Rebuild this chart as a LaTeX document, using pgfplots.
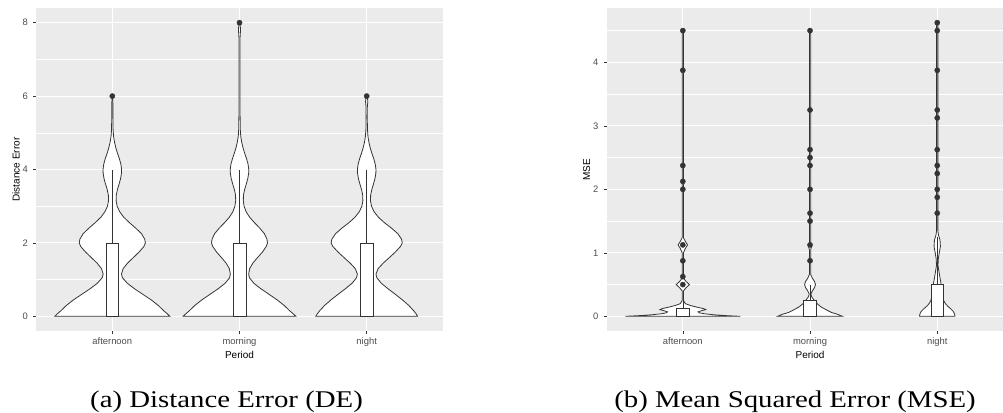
\documentclass[border=0pt]{standalone}
\usepackage{fontspec}
\setmainfont{Liberation Sans}
\newfontfamily\capfont{Liberation Serif}
\usepackage{pgfplots}
\usepackage{pgfplotstable}
\pgfplotsset{compat=1.18}

\definecolor{ggbg}{RGB}{235,235,235}
\definecolor{ggdark}{RGB}{51,51,51}
\definecolor{ggtext}{RGB}{77,77,77}

% ---- violin half-widths w (category units) at value y : Distance Error ----
\pgfplotstableread{
y w
0 0
0 0.452
0.06 0.435
0.15 0.405
0.3 0.36
0.45 0.305
0.6 0.24
0.75 0.175
0.9 0.118
1.05 0.08
1.15 0.072
1.3 0.085
1.45 0.12
1.6 0.165
1.75 0.21
1.9 0.248
2.0 0.26
2.1 0.255
2.25 0.23
2.4 0.185
2.55 0.135
2.7 0.09
2.85 0.058
3.0 0.038
3.15 0.03
3.3 0.031
3.45 0.04
3.6 0.053
3.75 0.065
3.9 0.072
4.0 0.073
4.15 0.067
4.3 0.055
4.45 0.04
4.6 0.027
4.75 0.017
4.9 0.01
5.1 0.006
5.4 0.0045
5.8 0.0045
6.0 0
}\deAft
\pgfplotstableread{
y w
0 0
0 0.443
0.06 0.425
0.15 0.395
0.3 0.35
0.45 0.295
0.6 0.232
0.75 0.168
0.9 0.113
1.05 0.078
1.15 0.072
1.3 0.08
1.45 0.105
1.6 0.142
1.75 0.18
1.9 0.21
2.0 0.22
2.1 0.216
2.25 0.196
2.4 0.16
2.55 0.118
2.7 0.08
2.85 0.052
3.0 0.036
3.15 0.03
3.3 0.031
3.45 0.04
3.6 0.053
3.75 0.065
3.9 0.072
4.0 0.073
4.15 0.067
4.3 0.055
4.45 0.04
4.6 0.027
4.75 0.017
4.9 0.01
5.1 0.006
5.5 0.0045
6.0 0.004
7.0 0.004
7.6 0.0045
7.8 0.008
7.92 0.006
8.0 0
}\deMor
\pgfplotstableread{
y w
0 0
0 0.40
0.06 0.39
0.15 0.37
0.3 0.33
0.45 0.28
0.6 0.225
0.75 0.168
0.9 0.115
1.05 0.08
1.15 0.073
1.3 0.09
1.45 0.13
1.6 0.178
1.75 0.225
1.9 0.265
2.0 0.28
2.1 0.274
2.25 0.245
2.4 0.196
2.55 0.14
2.7 0.092
2.85 0.058
3.0 0.038
3.15 0.03
3.3 0.031
3.45 0.04
3.6 0.053
3.75 0.065
3.9 0.072
4.0 0.073
4.15 0.067
4.3 0.055
4.45 0.04
4.6 0.027
4.75 0.017
4.9 0.01
5.1 0.006
5.4 0.0045
5.7 0.005
5.85 0.009
5.95 0.006
6.0 0
}\deNig

% ---- violin half-widths : MSE ----
\pgfplotstableread{
y w
0 0
0 0.452
0.012 0.33
0.025 0.24
0.04 0.17
0.055 0.13
0.07 0.12
0.09 0.15
0.105 0.18
0.12 0.165
0.145 0.11
0.17 0.06
0.2 0.02
0.25 0.005
0.4 0.005
0.45 0.025
0.5 0.052
0.55 0.025
0.6 0.005
1.0 0.005
1.07 0.02
1.125 0.037
1.18 0.02
1.24 0.005
4.45 0.005
4.5 0
}\mseAft
\pgfplotstableread{
y w
0 0
0 0.255
0.03 0.22
0.06 0.17
0.1 0.13
0.15 0.085
0.2 0.055
0.25 0.035
0.3 0.015
0.35 0.006
0.4 0.018
0.45 0.035
0.5 0.043
0.55 0.035
0.6 0.018
0.66 0.005
1.05 0.005
1.1 0.012
1.15 0.005
4.45 0.005
4.5 0
}\mseMor
\pgfplotstableread{
y w
0 0
0 0.139
0.04 0.136
0.08 0.125
0.12 0.105
0.16 0.082
0.2 0.064
0.25 0.05
0.35 0.04
0.5 0.031
0.65 0.018
0.8 0.006
0.9 0.008
1.0 0.016
1.1 0.025
1.2 0.022
1.28 0.01
1.35 0.005
4.58 0.005
4.625 0
}\mseNig

\pgfplotsset{
  ggpanel/.style={
    scale only axis,
    height=323pt,
    axis background/.style={fill=ggbg},
    axis line style={draw=none},
    tick align=outside,
    xtick pos=bottom, ytick pos=left,
    major tick length=3pt,
    minor tick length=0pt,
    tick style={ggdark, line width=0.55pt},
    xmajorgrids, ymajorgrids, yminorgrids,
    major grid style={white, line width=1.05pt},
    minor grid style={white, line width=0.5pt},
    xmin=0.4,
    xtick={1,2,3},
    xticklabels={afternoon,morning,night},
    tick label style={font=\fontsize{9.4}{10}\selectfont, color=ggtext, inner sep=0pt},
    xticklabel style={anchor=base, yshift=-10.5pt},
    yticklabel style={anchor=east, xshift=-5pt},
    /pgf/number format/assume math mode=true,
    label style={font=\fontsize{11.7}{13}\selectfont, inner sep=0pt},
  },
  vfill/.style={fill=white, draw=white, line width=0.2pt},
  vline/.style={draw=ggdark, line width=0.8pt},
  boxline/.style={draw=ggdark, line width=0.6pt, fill=white},
  outl/.style={only marks, mark=*, mark size=2.6pt, mark options={draw=ggdark, fill=ggdark}},
}

% violin: #1 = category position, #2 = table of half-widths
\newcommand{\violin}[2]{%
  \addplot[vfill] table[x expr=#1+\thisrow{w}, y=y]{#2};
  \addplot[vfill] table[x expr=#1-\thisrow{w}, y=y]{#2};
  \addplot[vline] table[x expr=#1+\thisrow{w}, y=y]{#2};
  \addplot[vline] table[x expr=#1-\thisrow{w}, y=y]{#2};
}

\begin{document}
\begin{tikzpicture}

% ================= (a) Distance Error =================
\begin{axis}[ggpanel,
  at={(36pt,81pt)}, anchor=south west,
  width=407pt, xmax=3.6,
  ymin=-0.4, ymax=8.4,
  ytick={0,2,4,6,8}, minor ytick={1,3,5,7},
  ylabel={Distance Error},
  every axis y label/.style={at={([xshift=-20pt]axis description cs:0,0.5)}, rotate=90, anchor=center},
  every axis x label/.style={at={([yshift=-24pt]axis cs:2,-0.4)}, anchor=center},
  xlabel={Period},
]
\violin{1}{\deAft}
\violin{2}{\deMor}
\violin{3}{\deNig}
% boxplots
\addplot[ggdark, line width=0.6pt] coordinates {(1,2) (1,4)};
\addplot[ggdark, line width=0.6pt] coordinates {(2,2) (2,4)};
\addplot[ggdark, line width=0.6pt] coordinates {(3,2) (3,4)};
\addplot[boxline] coordinates {(0.95,0) (1.05,0) (1.05,2) (0.95,2)} -- cycle;
\addplot[boxline] coordinates {(1.95,0) (2.05,0) (2.05,2) (1.95,2)} -- cycle;
\addplot[boxline] coordinates {(2.95,0) (3.05,0) (3.05,2) (2.95,2)} -- cycle;
\addplot[ggdark, line width=1.2pt] coordinates {(0.95,0) (1.05,0)};
\addplot[ggdark, line width=1.2pt] coordinates {(1.95,0) (2.05,0)};
\addplot[ggdark, line width=1.2pt] coordinates {(2.95,0) (3.05,0)};
\addplot[outl] coordinates {(1,6) (2,8) (3,6)};
\end{axis}

% ================= (b) MSE =================
\begin{axis}[ggpanel,
  at={(606.5pt,81pt)}, anchor=south west,
  width=396.5pt, xmax=3.517,
  ymin=-0.2312, ymax=4.8562,
  ytick={0,1,2,3,4}, minor ytick={0.5,1.5,2.5,3.5,4.5},
  ylabel={MSE},
  every axis y label/.style={at={([xshift=-19.8pt]axis description cs:0,0.5)}, rotate=90, anchor=center},
  every axis x label/.style={at={([yshift=-24pt]axis cs:2,-0.2312)}, anchor=center},
  xlabel={Period},
]
\violin{1}{\mseAft}
\violin{2}{\mseMor}
\violin{3}{\mseNig}
% boxplots
\addplot[ggdark, line width=0.6pt] coordinates {(1,0.125) (1,0.25)};
\addplot[ggdark, line width=0.6pt] coordinates {(2,0.25) (2,0.5)};
\addplot[ggdark, line width=0.6pt] coordinates {(3,0.5) (3,1.25)};
\addplot[boxline] coordinates {(0.95,0) (1.05,0) (1.05,0.125) (0.95,0.125)} -- cycle;
\addplot[boxline] coordinates {(1.95,0) (2.05,0) (2.05,0.25) (1.95,0.25)} -- cycle;
\addplot[boxline] coordinates {(2.95,0) (3.05,0) (3.05,0.5) (2.95,0.5)} -- cycle;
\addplot[ggdark, line width=1.2pt] coordinates {(0.95,0) (1.05,0)};
\addplot[ggdark, line width=1.2pt] coordinates {(1.95,0) (2.05,0)};
\addplot[ggdark, line width=1.2pt] coordinates {(2.95,0) (3.05,0)};
\addplot[outl] coordinates {(1,4.5) (1,3.875) (1,2.375) (1,2.125) (1,2.0) (1,1.125) (1,0.875) (1,0.625) (1,0.5)};
\addplot[outl] coordinates {(2,4.5) (2,3.25) (2,2.625) (2,2.5) (2,2.375) (2,2.0) (2,1.625) (2,1.5) (2,1.125) (2,0.875)};
\addplot[outl] coordinates {(3,4.625) (3,4.5) (3,3.875) (3,3.25) (3,3.125) (3,2.625) (3,2.375) (3,2.25) (3,2.0) (3,1.875) (3,1.625)};
\end{axis}

\node[anchor=base, xscale=1.2, font=\capfont\fontsize{24}{28}\selectfont] at (226.5pt,5pt) {(a) Distance Error (DE)};
\node[anchor=base, xscale=1.2, font=\capfont\fontsize{24}{28}\selectfont] at (795pt,5pt) {(b) Mean Squared Error (MSE)};

\pgfresetboundingbox
\useasboundingbox (0,0) rectangle (1003pt,412pt);
\end{tikzpicture}
\end{document}
